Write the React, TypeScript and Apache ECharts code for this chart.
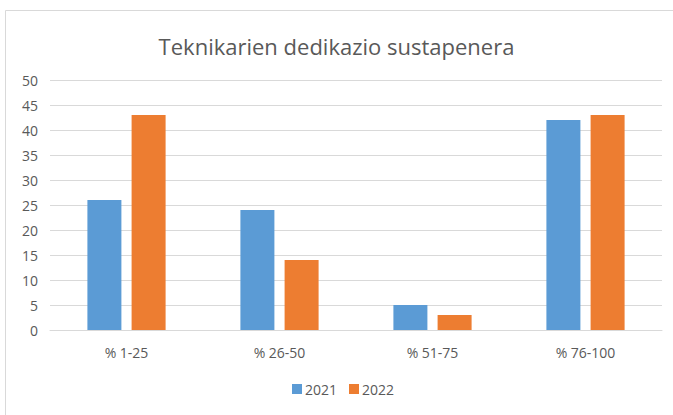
import React, { useEffect, useRef } from "react";
import * as echarts from "echarts";

const categories = ["% 1-25", "% 26-50", "% 51-75", "% 76-100"];
const series2021 = [26, 24, 5, 42];
const series2022 = [43, 14, 3, 43];
const seriesNames = ["2021", "2022"];
const titleText = "Teknikarien dedikazio sustapenera";

export default function App() {
  const ref = useRef<HTMLDivElement>(null);
  useEffect(() => {
    if (!ref.current) return;
    const chart = echarts.init(ref.current, null, { renderer: "svg" });
    const font = "'Open Sans', 'Noto Sans', sans-serif";
    chart.setOption({
      animation: false,
      backgroundColor: "#ffffff",
      textStyle: { fontFamily: font },
      title: {
        text: titleText,
        left: "center",
        top: 30,
        textStyle: { color: "#595959", fontSize: 22, fontWeight: "normal", fontFamily: font },
      },
      graphic: [
        {
          type: "rect",
          shape: { x: 5.5, y: 10.5, width: 700, height: 500 },
          style: { fill: "none", stroke: "#D9D9D9", lineWidth: 1 },
          silent: true,
        },
      ],
      legend: {
        data: seriesNames,
        bottom: 14,
        left: 287,
        itemWidth: 10,
        itemHeight: 10,
        itemGap: 12,
        icon: "rect",
        textStyle: { color: "#595959", fontSize: 14, fontFamily: font, padding: [0, 0, 0, -2] },
      },
      grid: { left: 50, right: 11, top: 80, bottom: 85, containLabel: false },
      xAxis: {
        type: "category",
        data: categories,
        axisLine: { lineStyle: { color: "#D9D9D9" } },
        axisTick: { show: false },
        axisLabel: { color: "#595959", fontSize: 14, margin: 15, fontFamily: font },
      },
      yAxis: {
        type: "value",
        min: 0,
        max: 50,
        interval: 5,
        axisLine: { show: false },
        axisTick: { show: false },
        axisLabel: { color: "#595959", fontSize: 14, margin: 12, fontFamily: font },
        splitLine: { lineStyle: { color: "#D9D9D9", width: 1 } },
      },
      series: [
        {
          name: seriesNames[0],
          type: "bar",
          data: series2021,
          barWidth: 34,
          barGap: "30%",
          itemStyle: { color: "#5B9BD5" },
        },
        {
          name: seriesNames[1],
          type: "bar",
          data: series2022,
          barWidth: 34,
          barGap: "30%",
          itemStyle: { color: "#ED7D31" },
        },
      ],
    });
    return () => chart.dispose();
  }, []);
  return (
    <div
      ref={ref}
      style={{ position: "fixed", left: 0, top: 0, width: 673, height: 415 }}
    />
  );
}
